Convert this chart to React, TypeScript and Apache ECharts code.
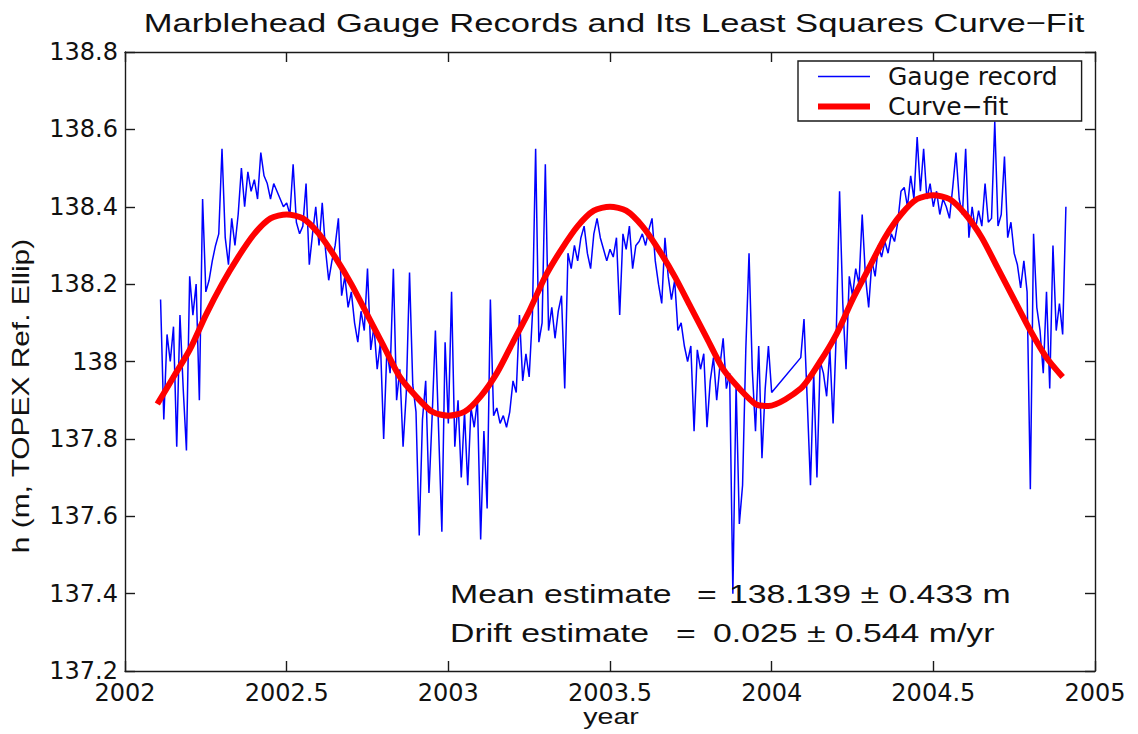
import { useEffect, useRef } from "react";
import * as echarts from "echarts";

// ---- Data ----
const xTickLabels = ["2002", "2002.5", "2003", "2003.5", "2004", "2004.5", "2005"];
const yTickLabels = ["137.2", "137.4", "137.6", "137.8", "138", "138.2", "138.4", "138.6", "138.8"];

const sampleStep = 0.01; // gauge sampling grid (years)

const gaugeAStart = 2002.11;
const gaugeA = [
  138.16, 137.85, 138.07, 138.0, 138.09, 137.78, 138.12, 137.93, 137.77, 138.22,
  138.12, 138.2, 137.9, 138.42, 138.18, 138.21, 138.26, 138.3, 138.33, 138.55,
  138.32, 138.25, 138.37, 138.3, 138.38, 138.5, 138.4, 138.49, 138.44, 138.47,
  138.42, 138.54, 138.48, 138.46, 138.42, 138.46, 138.44, 138.42, 138.4, 138.41,
  138.38, 138.51, 138.36, 138.33, 138.35, 138.46, 138.25, 138.33, 138.4, 138.3,
];
const gaugeBStart = 2002.61;
const gaugeB = [
  138.41, 138.29, 138.21, 138.26, 138.3, 138.37, 138.17, 138.22, 138.14, 138.18,
  138.1, 138.05, 138.13, 138.08, 138.24, 138.03, 138.09, 137.98, 138.05, 137.8,
  138.03, 137.97, 138.24, 137.9, 137.98, 137.78, 137.92, 138.23, 137.94, 137.87,
  137.55, 137.85, 137.95, 137.66, 137.86, 138.08, 137.82, 137.56, 138.05, 137.84,
  138.18, 137.78, 137.9, 137.7, 137.87, 137.68, 137.88, 137.83, 137.9, 137.54,
  137.82, 137.62, 138.16, 137.86, 137.88, 137.84, 137.86, 137.83, 137.87, 137.95,
];
const gaugeCStart = 2003.21;
const gaugeC = [
  137.92, 138.12, 137.95, 138.02, 137.96, 138.12, 138.55, 138.05, 138.1, 138.51,
  138.08, 138.14, 138.06, 138.13, 138.17, 137.93, 138.28, 138.24, 138.3, 138.26,
  138.32, 138.35, 138.28, 138.24, 138.33, 138.37, 138.32, 138.29, 138.26, 138.29,
  138.27, 138.32, 138.12, 138.33, 138.29, 138.35, 138.24, 138.3, 138.31, 138.33,
  138.3, 138.34, 138.37, 138.26, 138.2, 138.15, 138.32, 138.22, 138.16, 138.21,
  138.08, 138.1, 138.04, 138.0, 138.04, 137.82, 138.03, 137.98, 138.02, 137.83,
];
const gaugeDStart = 2003.81;
const gaugeD = [
  137.95, 138.01, 137.9, 137.99, 138.06, 137.93, 137.97, 137.4, 137.94, 137.58,
  137.68, 138.03, 138.28, 137.98, 137.82, 138.04, 137.75, 137.93, 138.04, 137.92,
];
const gaugeEStart = 2004.09;
const gaugeE = [
  138.01, 138.11, 137.9, 137.68, 137.97, 137.7, 138.0, 137.97, 137.91, 138.03,
  137.84, 138.08, 138.44, 138.15, 137.98, 138.22, 138.17, 138.24, 138.2, 138.38,
  138.22, 138.14, 138.26, 138.22, 138.3, 138.27, 138.31, 138.28, 138.33, 138.31,
  138.36, 138.44,
];
const gaugeFStart = 2004.41;
const gaugeF = [
  138.45, 138.4, 138.48, 138.42, 138.58, 138.44, 138.55, 138.42, 138.46, 138.4,
  138.44, 138.38, 138.42, 138.4, 138.37, 138.45, 138.54, 138.42, 138.38, 138.55,
  138.32, 138.4, 138.34, 138.39, 138.35, 138.46, 138.36, 138.37, 138.62, 138.35,
  138.38, 138.53, 138.32, 138.36, 138.28, 138.25, 138.19, 138.26, 138.18, 137.67,
  138.33, 138.14, 138.08, 137.97, 138.18, 137.93, 138.3, 138.08, 138.15, 138.07,
  138.4,
];

const fitYears = [
  2002.1, 2002.15, 2002.2, 2002.25, 2002.3, 2002.35, 2002.4, 2002.45, 2002.5, 2002.55,
  2002.6, 2002.65, 2002.7, 2002.75, 2002.8, 2002.85, 2002.9, 2002.95, 2003.0, 2003.05,
  2003.1, 2003.15, 2003.2, 2003.25, 2003.3, 2003.35, 2003.4, 2003.45, 2003.5, 2003.55,
  2003.6, 2003.65, 2003.7, 2003.75, 2003.8, 2003.85, 2003.9, 2003.95, 2003.99, 2004.09,
  2004.15, 2004.2, 2004.25, 2004.3, 2004.35, 2004.4, 2004.45, 2004.5, 2004.55, 2004.6,
  2004.65, 2004.7, 2004.75, 2004.8, 2004.85, 2004.9,
];
const fitValues = [
  137.89, 137.96, 138.03, 138.12, 138.2, 138.27, 138.33, 138.37, 138.38, 138.37,
  138.33, 138.27, 138.2, 138.12, 138.04, 137.96, 137.91, 137.87, 137.86, 137.87,
  137.91, 137.97, 138.05, 138.13, 138.22, 138.29, 138.35, 138.39, 138.4, 138.39,
  138.35, 138.29, 138.22, 138.14, 138.06, 137.98, 137.93, 137.89, 137.885, 137.93,
  138.0, 138.07, 138.16, 138.24, 138.32, 138.38, 138.42, 138.43, 138.42, 138.38,
  138.32, 138.24, 138.16, 138.08, 138.01, 137.96,
];

const titleText = "Marblehead Gauge Records and Its Least Squares Curve\u2212Fit";
const legendNames = ["Gauge record", "Curve\u2212fit"];

function segment(start: number, values: number[]): [number, number][] {
  return values.map((v, i) => [Math.round((start + i * sampleStep) * 1000) / 1000, v]);
}

export default function App() {
  const ref = useRef<HTMLDivElement>(null);

  useEffect(() => {
    document.body.style.margin = "0";
    const chart = echarts.init(ref.current!, undefined, { renderer: "svg" });

    const gaugeData = [
      ...segment(gaugeAStart, gaugeA),
      ...segment(gaugeBStart, gaugeB),
      ...segment(gaugeCStart, gaugeC),
      ...segment(gaugeDStart, gaugeD),
      ...segment(gaugeEStart, gaugeE),
      ...segment(gaugeFStart, gaugeF),
    ];
    const fitData = fitYears.map((y, i) => [y, fitValues[i]]);

    const axisLineStyle = { color: "#1a1a1a", width: 1.4 };
    const tick = { show: true, inside: true, length: 10, lineStyle: axisLineStyle };
    const labelFont = { fontFamily: "DejaVu Sans", fontSize: 24, color: "#111", lineHeight: 18 };
    const fmt = (v: number) => parseFloat(v.toFixed(1)).toString();

    const xBase = {
      type: "value" as const,
      min: 2002,
      max: 2005,
      interval: 0.5,
      splitLine: { show: false },
      axisLine: { show: true, onZero: false, lineStyle: axisLineStyle },
      axisTick: tick,
    };
    const yBase = {
      type: "value" as const,
      min: 137.2,
      max: 138.8,
      interval: 0.2,
      splitLine: { show: false },
      axisLine: { show: true, onZero: false, lineStyle: axisLineStyle },
      axisTick: tick,
    };

    const textBase = { fontFamily: "Liberation Sans", fill: "#111" };

    chart.setOption({
      animation: false,
      backgroundColor: "#ffffff",
      grid: { left: 125, top: 52, width: 970, height: 619, containLabel: false },
      legend: {
        orient: "vertical",
        left: 798,
        top: 61,
        data: [
          { name: legendNames[0], lineStyle: { width: 1.5, color: "#0000ff" } },
          { name: legendNames[1], lineStyle: { width: 6, color: "#ff0000" } },
        ],
        selectedMode: false,
        padding: [3, 24, 2, 17],
        itemGap: 5,
        itemWidth: 52,
        itemHeight: 14,
        itemStyle: { opacity: 0, borderWidth: 0 },
        borderColor: "#1a1a1a",
        borderWidth: 1.4,
        backgroundColor: "#ffffff",
        textStyle: { fontFamily: "DejaVu Sans", fontSize: 25, color: "#111", padding: [0, 0, 0, 13] },
        z: 10,
      },
      xAxis: [
        {
          ...xBase,
          position: "bottom",
          axisLabel: {
            ...labelFont,
            margin: 13,
            formatter: (v: number) => xTickLabels[Math.round((v - 2002) * 2)] ?? String(v),
          },
        },
        { ...xBase, position: "top", axisLabel: { show: false } },
      ],
      yAxis: [
        {
          ...yBase,
          position: "left",
          axisLabel: {
            ...labelFont,
            margin: 7,
            formatter: (v: number) => yTickLabels[Math.round((v - 137.2) * 5)] ?? fmt(v),
          },
        },
        { ...yBase, position: "right", axisLabel: { show: false } },
      ],
      series: [
        {
          name: legendNames[0],
          type: "line",
          xAxisIndex: 0,
          yAxisIndex: 0,
          data: gaugeData,
          symbol: "none",
          showSymbol: false,
          lineStyle: { color: "#0000ff", width: 1.5 },
          itemStyle: { color: "#0000ff" },
          z: 2,
        },
        {
          name: legendNames[1],
          type: "line",
          xAxisIndex: 0,
          yAxisIndex: 0,
          data: fitData,
          symbol: "none",
          showSymbol: false,
          smooth: 0.25,
          lineStyle: { color: "#ff0000", width: 6 },
          itemStyle: { color: "#ff0000" },
          z: 3,
        },
      ],
      graphic: [
        {
          type: "text",
          x: 614,
          y: 23,
          scaleX: 1.33,
          style: { ...textBase, text: titleText, fontSize: 26, align: "center", verticalAlign: "middle", textAlign: "center", textVerticalAlign: "middle" },
        },
        {
          type: "text",
          x: 611,
          y: 716,
          scaleX: 1.3,
          style: { ...textBase, text: "year", fontSize: 22, align: "center", verticalAlign: "middle", textAlign: "center", textVerticalAlign: "middle" },
        },
        {
          type: "text",
          x: 21,
          y: 396,
          rotation: Math.PI / 2,
          scaleX: 1.3,
          style: { ...textBase, text: "h (m, TOPEX Ref. Ellip)", fontSize: 23, align: "center", verticalAlign: "middle", textAlign: "center", textVerticalAlign: "middle" },
        },
        {
          type: "text", x: 450, y: 594, scaleX: 1.3, z: 20,
          style: { ...textBase, text: "Mean estimate", fontSize: 26, align: "left", verticalAlign: "middle", textAlign: "left", textVerticalAlign: "middle" },
        },
        {
          type: "text", x: 697, y: 594, scaleX: 1.3, z: 20,
          style: { ...textBase, text: "=", fontSize: 26, align: "left", verticalAlign: "middle", textAlign: "left", textVerticalAlign: "middle" },
        },
        {
          type: "text", x: 729, y: 594, scaleX: 1.3, z: 20,
          style: { ...textBase, text: "138.139 \u00b1 0.433 m", fontSize: 26, align: "left", verticalAlign: "middle", textAlign: "left", textVerticalAlign: "middle" },
        },
        {
          type: "text", x: 450, y: 633, scaleX: 1.3, z: 20,
          style: { ...textBase, text: "Drift estimate", fontSize: 26, align: "left", verticalAlign: "middle", textAlign: "left", textVerticalAlign: "middle" },
        },
        {
          type: "text", x: 676, y: 633, scaleX: 1.3, z: 20,
          style: { ...textBase, text: "=", fontSize: 26, align: "left", verticalAlign: "middle", textAlign: "left", textVerticalAlign: "middle" },
        },
        {
          type: "text", x: 713, y: 633, scaleX: 1.3, z: 20,
          style: { ...textBase, text: "0.025 \u00b1 0.544 m/yr", fontSize: 26, align: "left", verticalAlign: "middle", textAlign: "left", textVerticalAlign: "middle" },
        },
      ],
    });

    return () => chart.dispose();
  }, []);

  return <div ref={ref} style={{ width: 1138, height: 734 }} />;
}
